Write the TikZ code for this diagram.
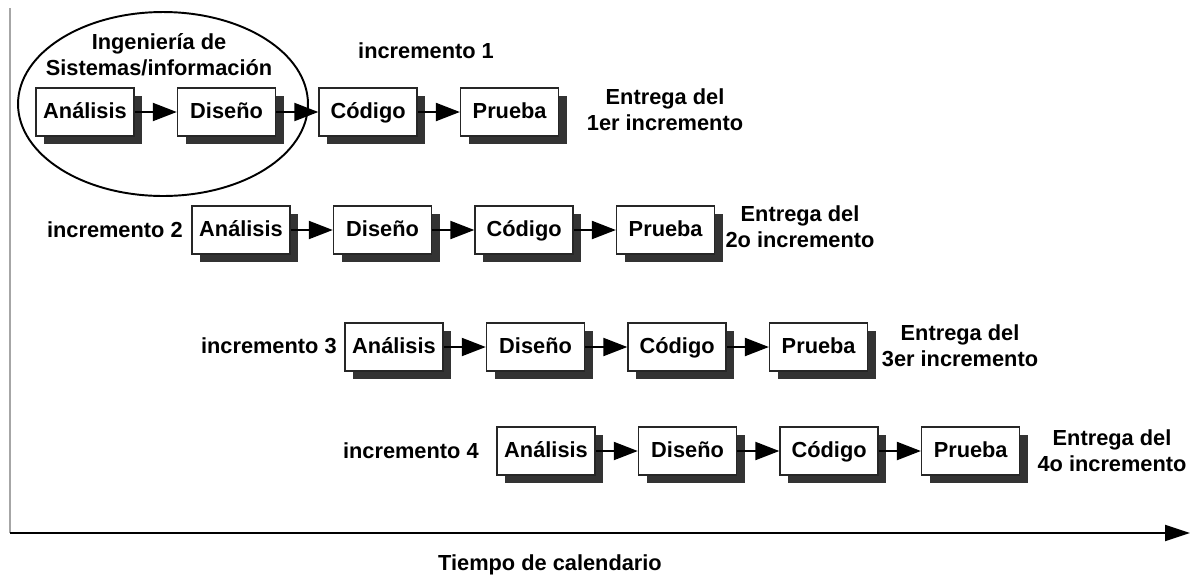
\documentclass[tikz,border=0pt]{standalone}
\usepackage{fontspec}
\setmainfont{Liberation Sans}
\usetikzlibrary{positioning, arrows.meta, shadows}

\begin{document}
\begin{tikzpicture}[
        x=0.02cm, y=-0.02cm,
        font=\fontsize{12.4}{14.8}\selectfont\bfseries,
        fase/.style={rectangle, draw=black!85, line width=0.9pt, fill=white,
            minimum width=1.96cm, minimum height=0.96cm, inner sep=0pt,
            text height=0.72em, text depth=0pt,
            drop shadow={shadow xshift=0.16cm, shadow yshift=-0.16cm,
                opacity=1, fill=black!80}},
        flecha/.style={line width=1.2pt, -{Triangle[length=0.48cm, width=0.36cm]}},
        etiqueta/.style={align=center, inner sep=0pt},
    ]
    \useasboundingbox (0,0) rectangle (1202,579);

    % ejes del tiempo
    \coordinate (arriba) at (10,8);
    \coordinate (origen) at (10,533);
    \coordinate (fin) at (1190,533);
    \draw[gray!70, line width=1.6pt] (arriba) -- (origen);
    \draw[line width=1.1pt, -{Triangle[length=0.5cm, width=0.32cm]}] (origen) -- (fin);
    \node[etiqueta] (tiempo) at (550,565) {Tiempo de calendario};

    % ingenieria de sistemas
    \draw[line width=1.1pt] (163,104) ellipse [x radius=2.9cm, y radius=1.84cm];
    \node[etiqueta] (isi) at (159,55) {Ingeniería de\\Sistemas/información};

    % incrementos
    \foreach \i/\x/\y in {1/85/112, 2/241/230, 3/394/347, 4/546/451} {
        \node[fase] (an\i) at (\x,\y) {Análisis};
        \node[fase, right=0.84cm of an\i] (di\i) {Diseño};
        \node[fase, right=0.84cm of di\i] (co\i) {Código};
        \node[fase, right=0.84cm of co\i] (pr\i) {Prueba};
        \draw[flecha] (an\i) -- (di\i);
        \draw[flecha] (di\i) -- (co\i);
        \draw[flecha] (co\i) -- (pr\i);
    }

    \node[etiqueta] (inc1) at (426,51) {incremento 1};
    \node[etiqueta, anchor=east] (inc2) at (183,230) {incremento 2};
    \node[etiqueta, anchor=east] (inc3) at (337,346) {incremento 3};
    \node[etiqueta, anchor=east] (inc4) at (479,451) {incremento 4};

    \node[etiqueta] (ent1) at (665,110) {Entrega del\\1er incremento};
    \node[etiqueta] (ent2) at (800,227) {Entrega del\\2o incremento};
    \node[etiqueta] (ent3) at (960,346) {Entrega del\\3er incremento};
    \node[etiqueta] (ent4) at (1112,451) {Entrega del\\4o incremento};
\end{tikzpicture}
\end{document}
